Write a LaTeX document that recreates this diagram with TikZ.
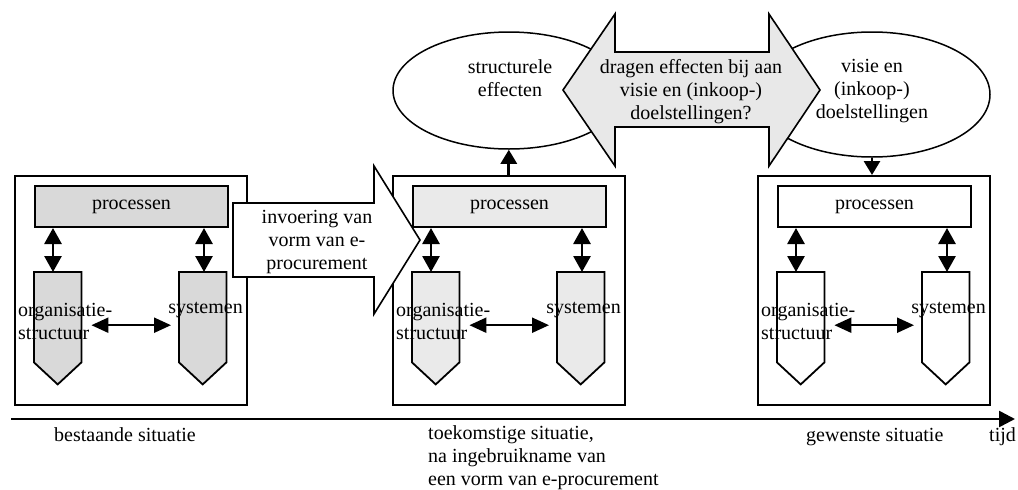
\documentclass[tikz,border=0pt]{standalone}
\usepackage{fontspec}
\setmainfont{Liberation Serif}
\usetikzlibrary{arrows.meta,shapes.geometric}
\definecolor{fillA}{HTML}{D9D9D9}
\definecolor{fillB}{HTML}{EAEAEA}
\definecolor{fillC}{HTML}{E8E8E8}
\begin{document}
\begin{tikzpicture}[x=1pt,y=-1pt,
  every node/.style={font=\fontsize{20}{23}\selectfont, inner sep=0pt},
  frame/.style={draw, line width=1.6pt, minimum width=232pt, minimum height=229pt, anchor=north west},
  procbox/.style={draw, line width=2pt, minimum width=193pt, minimum height=41pt, anchor=north west},
  pentbound/.style={minimum width=47pt, minimum height=112pt, anchor=north west},
  pent/.style={draw, line width=1.8pt, line join=miter},
  varrow/.style={line width=2.8pt, {Triangle[length=16pt,width=17pt]}-{Triangle[length=16pt,width=17pt]}},
  harrow/.style={line width=2.2pt, {Triangle[length=17pt,width=15pt]}-{Triangle[length=17pt,width=15pt]}},
  uarrow/.style={line width=2.8pt, -{Triangle[length=14pt,width=16pt]}},
  bigarrow/.style={draw, line width=1.6pt, line join=miter},
  oval/.style={draw, ellipse, line width=1.5pt},
  axis/.style={line width=2.6pt, -{Triangle[length=16pt,width=16pt]}}
]
\useasboundingbox (0,0) rectangle (1018,490);

% three situations: frame, process bar, two pentagon blocks, connectors
\foreach \k/\L/\col in {1/14/fillA, 2/392/fillB, 3/757/white}{
  \node[frame] (box\k) at (\L,175) {};
  \node[procbox, fill=\col] (proc\k) at (\L+20,185) {processen};
  \node[pentbound] (org\k) at (\L+20,272) {};
  \node[pentbound] (sys\k) at (\L+165,272) {};
  \draw[pent, fill=\col] (org\k.north west) -- (org\k.north east)
     -- ([yshift=22pt]org\k.south east) -- (org\k.south)
     -- ([yshift=22pt]org\k.south west) -- cycle;
  \draw[pent, fill=\col] (sys\k.north west) -- (sys\k.north east)
     -- ([yshift=22pt]sys\k.south east) -- (sys\k.south)
     -- ([yshift=22pt]sys\k.south west) -- cycle;
  \node[anchor=west, align=left] (orgt\k) at (\L+4,321) {organisatie-\\structuur};
  \node[anchor=east] (syst\k) at (\L+229,310) {systemen};
  \coordinate (oa\k) at (\L+39,272);
  \coordinate (sa\k) at (\L+190,272);
  \draw[varrow] (proc\k.south -| oa\k) -- (oa\k);
  \draw[varrow] (proc\k.south -| sa\k) -- (sa\k);
  \draw[harrow] ([shift={(10pt,3pt)}]org\k.east) -- ([shift={(-8pt,3pt)}]sys\k.west);
}

% introduction of e-procurement
\draw[bigarrow, fill=white] (233,203) -- (374,203) -- (374,166) -- (420,240)
  -- (374,314) -- (374,277) -- (233,277) -- cycle;
\node[align=center] (intro) at (317,242) {invoering van\\vorm van e-\\procurement};

% effects and goals
\node[oval, minimum width=232pt, minimum height=117pt] (eff) at (509,90.5) {};
\node[align=center] (efft) at (510,78.5) {structurele\\effecten};
\node[oval, minimum width=236pt, minimum height=125pt] (goal) at (872,94.5) {};
\node[align=center] (goalt) at (872,91) {visie en\\(inkoop-)\\doelstellingen};

\draw[bigarrow, fill=fillC] (563,90) -- (615,14) -- (615,52) -- (769,52) -- (769,14)
  -- (820,90) -- (769,166) -- (769,127) -- (615,127) -- (615,166) -- cycle;
\node[align=center] (ask) at (691,91.5) {dragen effecten bij aan\\visie en (inkoop-)\\doelstellingen?};

\draw[uarrow] (box2.north) -- (box2.north |- eff.south);
\draw[uarrow] (goal.south) -- (goal.south |- box3.north);

% time axis
\coordinate (t0) at (11,419);
\coordinate (t1) at (1015,419);
\draw[axis] (t0) -- (t1);
\node[anchor=west] (now) at (54,435) {bestaande situatie};
\node[anchor=west, align=left] (future) at (428,458) {toekomstige situatie,\\na ingebruikname van\\een vorm van e-procurement};
\node[anchor=west] (wish) at (806,437) {gewenste situatie};
\node[anchor=west] (time) at (989,437) {tijd};
\end{tikzpicture}
\end{document}
